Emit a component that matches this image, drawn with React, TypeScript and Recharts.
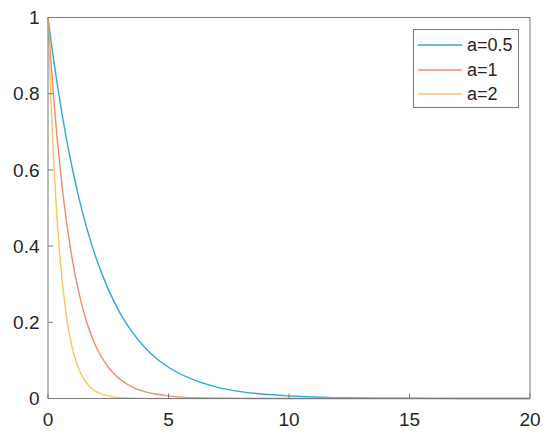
import React from 'react';
import { LineChart, Line, XAxis, YAxis } from 'recharts';

const tValues = [0, 0.125, 0.25, 0.375, 0.5, 0.75, 1, 1.25, 1.5, 1.75, 2, 2.5, 3, 3.5, 4, 4.5, 5, 6, 7, 8, 9, 10, 11, 12, 14, 16, 18, 20];
const seriesA05 = [1, 0.939, 0.882, 0.829, 0.779, 0.687, 0.607, 0.535, 0.472, 0.417, 0.368, 0.287, 0.223, 0.174, 0.135, 0.105, 0.082, 0.05, 0.03, 0.018, 0.011, 0.007, 0.004, 0.002, 0.001, 0.0003, 0.0001, 0.00005];
const seriesA1 = [1, 0.882, 0.779, 0.687, 0.607, 0.472, 0.368, 0.287, 0.223, 0.174, 0.135, 0.082, 0.05, 0.03, 0.018, 0.011, 0.007, 0.002, 0.001, 0.0003, 0.0001, 0, 0, 0, 0, 0, 0, 0];
const seriesA2 = [1, 0.779, 0.607, 0.472, 0.368, 0.223, 0.135, 0.082, 0.05, 0.03, 0.018, 0.007, 0.002, 0.001, 0.0003, 0.0001, 0, 0, 0, 0, 0, 0, 0, 0, 0, 0, 0, 0];
const seriesNames = ['a=0.5', 'a=1', 'a=2'];
const seriesColors = ['#2ea7da', '#f08a6e', '#f7c55e'];
const xTicks = [0, 5, 10, 15, 20];
const yTicks = [0, 0.2, 0.4, 0.6, 0.8, 1];

const data = tValues.map((t, i) => ({ t, s0: seriesA05[i], s1: seriesA1[i], s2: seriesA2[i] }));

const FONT = '"Liberation Sans", Arial, sans-serif';
const AXIS_COLOR = '#7a7a7a';
const TEXT_COLOR = '#262626';

const LegendBox = () => (
  <div
    style={{
      position: 'absolute',
      left: 413,
      top: 29,
      width: 106,
      height: 79,
      border: `1px solid ${AXIS_COLOR}`,
      background: '#fff',
      boxSizing: 'border-box',
      fontFamily: FONT,
      fontSize: 18,
      color: TEXT_COLOR,
      paddingTop: 3,
    }}
  >
    {seriesNames.map((name, i) => (
      <div key={name} style={{ display: 'flex', alignItems: 'center', height: 24.5 }}>
        <svg width={44} height={4} style={{ marginLeft: 4, marginRight: 5, display: 'block' }}>
          <line x1={0} y1={2} x2={44} y2={2} stroke={seriesColors[i]} strokeWidth={1.5} />
        </svg>
        <span style={{ lineHeight: '20px' }}>{name}</span>
      </div>
    ))}
  </div>
);

export default function App() {
  const tickStyle = { fontFamily: FONT, fontSize: 19, fill: TEXT_COLOR };
  return (
    <div style={{ position: 'absolute', left: 0, top: 0, width: 550, height: 440, background: '#fff' }}>
      <LineChart width={550} height={440} data={data} margin={{ top: 16.5, right: 19, bottom: 11.5, left: 8 }}>
        <XAxis
          xAxisId="bottom"
          dataKey="t"
          type="number"
          domain={[0, 20]}
          ticks={xTicks}
          height={30}
          tickSize={-5}
          tickMargin={19}
          stroke={AXIS_COLOR}
          tick={tickStyle}
          fontSize={19}
          interval={0}
        />
        <XAxis
          xAxisId="top"
          orientation="top"
          dataKey="t"
          type="number"
          domain={[0, 20]}
          ticks={xTicks}
          height={1}
          tickSize={-5}
          tick={false}
          stroke={AXIS_COLOR}
          interval={0}
        />
        <YAxis
          yAxisId="left"
          type="number"
          domain={[0, 1]}
          ticks={yTicks}
          width={40}
          tickSize={-5}
          tickMargin={13.5}
          stroke={AXIS_COLOR}
          tick={tickStyle}
          fontSize={19}
          tickFormatter={(v: number) => String(v)}
          interval={0}
        />
        <YAxis
          yAxisId="right"
          orientation="right"
          type="number"
          domain={[0, 1]}
          ticks={yTicks}
          width={1}
          tickSize={-5}
          tick={false}
          stroke={AXIS_COLOR}
          interval={0}
        />
        {['s0', 's1', 's2'].map((k, i) => (
          <Line
            key={k}
            xAxisId="bottom"
            yAxisId="left"
            dataKey={k}
            name={seriesNames[i]}
            type="monotone"
            stroke={seriesColors[i]}
            strokeWidth={1.4}
            dot={false}
            isAnimationActive={false}
          />
        ))}
      </LineChart>
      <LegendBox />
    </div>
  );
}
